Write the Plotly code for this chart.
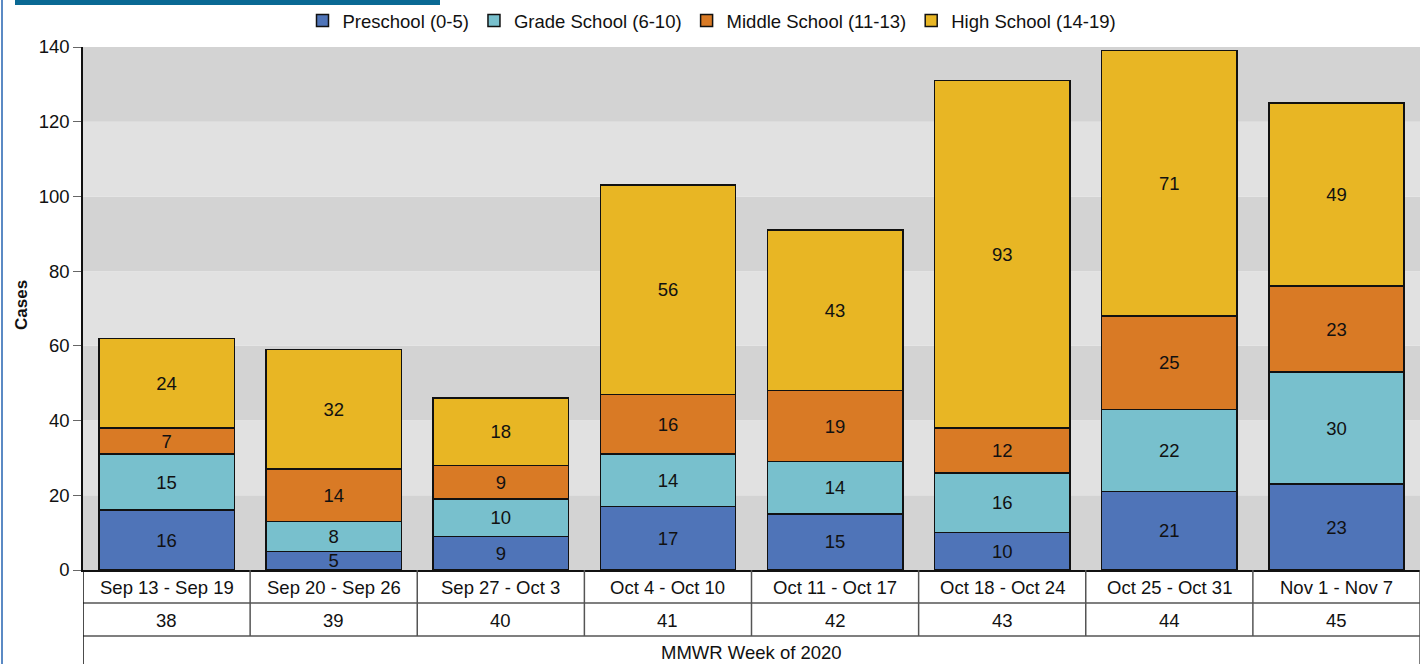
import plotly.graph_objects as go

weeks = ["Sep 13 - Sep 19", "Sep 20 - Sep 26", "Sep 27 - Oct 3", "Oct 4 - Oct 10",
         "Oct 11 - Oct 17", "Oct 18 - Oct 24", "Oct 25 - Oct 31", "Nov 1 - Nov 7"]
mmwr_weeks = ["38", "39", "40", "41", "42", "43", "44", "45"]
preschool = [16, 5, 9, 17, 15, 10, 21, 23]
grade_school = [15, 8, 10, 14, 14, 16, 22, 30]
middle_school = [7, 14, 9, 16, 19, 12, 25, 23]
high_school = [24, 32, 18, 56, 43, 93, 71, 49]
series_names = ["Preschool (0-5)", "Grade School (6-10)", "Middle School (11-13)", "High School (14-19)"]
series_colors = ["#4f74b8", "#78c0cd", "#d97a25", "#e8b624"]
y_ticks = [0, 20, 40, 60, 80, 100, 120, 140]
x_title = "MMWR Week of 2020"
y_title = "Cases"

FONT = "Arial, Liberation Sans, sans-serif"
FS = 18.5
W, H = 1422, 664
ML, MR, MT, MB = 83, 2, 47, 94
plot_h = H - MT - MB
plot_w = W - ML - MR

fig = go.Figure()
xs = list(range(len(weeks)))
for name, vals, col in zip(series_names, [preschool, grade_school, middle_school, high_school], series_colors):
    fig.add_trace(go.Bar(
        x=xs, y=vals, name=name,
        marker=dict(color=col, line=dict(color="#111111", width=1.5)),
        text=[str(v) for v in vals], textposition="inside", insidetextanchor="middle",
        textangle=0,
        textfont=dict(color="#111111", size=FS, family=FONT),
        hoverinfo="skip",
    ))

shapes = []
# alternating background bands
for i in range(len(y_ticks) - 1):
    lo, hi = y_ticks[i], y_ticks[i + 1]
    shapes.append(dict(type="rect", xref="x domain", yref="y", x0=0, x1=1, y0=lo, y1=hi,
                       fillcolor="#d3d3d3" if i % 2 == 0 else "#e1e1e1", line=dict(width=0), layer="below"))

def py(px):  # pixels below plot bottom -> y domain
    return -px / plot_h

row1, row2, bottom = py(33), py(66), py(MB)
tc = "#555555"
# table horizontal lines
for yv in [row1, row2]:
    shapes.append(dict(type="line", xref="x", yref="y domain", x0=-0.5, x1=len(weeks) - 0.5, y0=yv, y1=yv,
                       line=dict(color=tc, width=1.5)))
# table vertical lines
for k in range(1, len(weeks)):
    xv = k - 0.5
    shapes.append(dict(type="line", xref="x", yref="y domain", x0=xv, x1=xv, y0=0, y1=row2,
                       line=dict(color=tc, width=1.5)))
for xv in [-0.5, len(weeks) - 0.5]:
    shapes.append(dict(type="line", xref="x", yref="y domain", x0=xv, x1=xv, y0=0, y1=bottom,
                       line=dict(color="#111111" if xv < 0 else tc, width=1.5)))
# title bar remnant and left border
shapes.append(dict(type="rect", xref="paper", yref="paper",
                   x0=(15 - ML) / plot_w, x1=(440 - ML) / plot_w,
                   y0=(H - MB - 5) / plot_h, y1=(H - MB + 2) / plot_h,
                   fillcolor="#0a6994", line=dict(width=0)))
shapes.append(dict(type="line", xref="paper", yref="paper",
                   x0=(2 - ML) / plot_w, x1=(2 - ML) / plot_w, y0=bottom, y1=(H - MB) / plot_h,
                   line=dict(color="#5b8ac4", width=2)))

annotations = []
for i, (w, n) in enumerate(zip(weeks, mmwr_weeks)):
    annotations.append(dict(x=i, y=py(17), xref="x", yref="y domain", text=w, showarrow=False,
                            font=dict(size=FS, color="#111111", family=FONT),
                            xanchor="center", yanchor="middle"))
    annotations.append(dict(x=i, y=py(50), xref="x", yref="y domain", text=n, showarrow=False,
                            font=dict(size=FS, color="#111111", family=FONT),
                            xanchor="center", yanchor="middle"))
annotations.append(dict(x=(len(weeks) - 1) / 2, y=py(82), xref="x", yref="y domain", text=x_title,
                        showarrow=False, font=dict(size=FS, color="#111111", family=FONT),
                        xanchor="center", yanchor="middle"))
annotations.append(dict(x=(21 - ML) / plot_w, y=(H - MB - 305) / plot_h, xref="paper", yref="paper",
                        text="<b>" + y_title + "</b>", textangle=-90, showarrow=False,
                        xanchor="center", yanchor="middle",
                        font=dict(size=17, color="#111111", family=FONT)))

fig.update_layout(
    width=W, height=H,
    margin=dict(l=ML, r=MR, t=MT, b=MB, autoexpand=False),
    barmode="stack", bargap=0.19,
    plot_bgcolor="white", paper_bgcolor="white",
    font=dict(family=FONT, size=FS, color="#111111"),
    uniformtext=dict(minsize=FS, mode="show"),
    showlegend=True,
    legend=dict(orientation="h", x=(712 - ML) / plot_w, xanchor="center",
                y=(H - MB - 21) / plot_h, yanchor="middle",
                font=dict(size=FS, family=FONT, color="#111111"), traceorder="normal",
                bgcolor="rgba(0,0,0,0)", itemwidth=30),
    xaxis=dict(range=[-0.5, len(weeks) - 0.5], showticklabels=False, ticks="",
               showline=True, linecolor="#111111", linewidth=1.5, showgrid=False, zeroline=False,
               fixedrange=True, automargin=False),
    yaxis=dict(range=[0, 140], tickvals=y_ticks, ticks="outside", ticklen=8, tickcolor="#666666",
               showline=True, linecolor="#111111", linewidth=1.5, showgrid=False, zeroline=False,
               automargin=False,
               tickfont=dict(size=FS, family=FONT, color="#111111")),
    shapes=shapes, annotations=annotations,
)

fig.write_html("out.html", config={"displayModeBar": False},
               post_script="document.body.style.margin='0';document.body.style.overflow='hidden';")
